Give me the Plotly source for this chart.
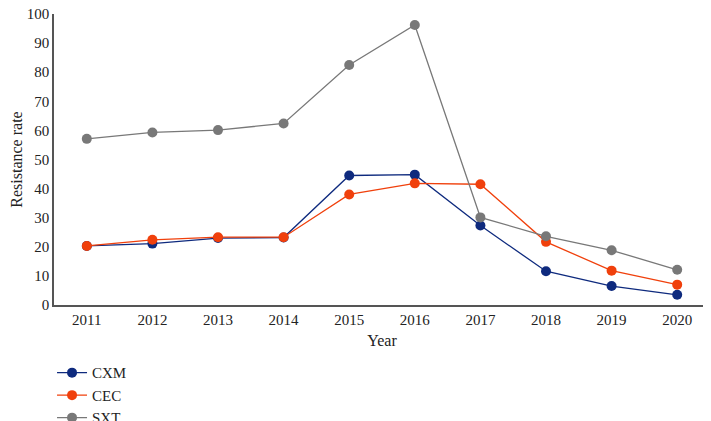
import plotly.graph_objects as go

# data
years = ["2011", "2012", "2013", "2014", "2015", "2016", "2017", "2018", "2019", "2020"]
cxm = [20.3, 21.1, 23.0, 23.2, 44.5, 44.8, 27.3, 11.6, 6.5, 3.5]
cec = [20.3, 22.4, 23.3, 23.3, 38.0, 41.8, 41.5, 21.7, 11.8, 7.0]
sxt = [57.1, 59.3, 60.1, 62.4, 82.5, 96.2, 30.1, 23.6, 18.8, 12.1]

fig = go.Figure()

# one trace per drug
fig.add_trace(go.Scatter(x=years, y=cxm, mode="lines+markers", name="CXM",
                         line=dict(color="#0e2a7e", width=1.3),
                         marker=dict(size=10, color="#0e2a7e")))
fig.add_trace(go.Scatter(x=years, y=cec, mode="lines+markers", name="CEC",
                         line=dict(color="#f0400c", width=1.3),
                         marker=dict(size=10, color="#f0400c")))
fig.add_trace(go.Scatter(x=years, y=sxt, mode="lines+markers", name="SXT",
                         line=dict(color="#787878", width=1.3),
                         marker=dict(size=10, color="#787878")))

# page body has an 8px margin, so the margins below are shifted by that
fig.update_layout(
    width=711, height=421,
    margin=dict(l=46, r=9, t=6, b=124, autoexpand=False),
    plot_bgcolor="white", paper_bgcolor="white",
    font=dict(family="Liberation Serif", size=15, color="#222"),
    legend=dict(
        orientation="v",
        x=-0.003, y=-0.1766, xanchor="left", yanchor="top",
        font=dict(size=15),
        itemwidth=30,
        tracegroupgap=0,
    ),
    xaxis=dict(
        title=dict(text="Year", standoff=8, font=dict(size=16)),
        type="category", range=[-0.5, 9.5], automargin=False,
        showline=True, linecolor="#555", linewidth=1.5,
        showgrid=False, ticks="",
    ),
    yaxis=dict(
        title=dict(text="Resistance rate", standoff=0, font=dict(size=16)),
        range=[0, 100], dtick=10, automargin=False,
        ticklabeloverflow="allow",
        showline=True, linecolor="#555", linewidth=1.5,
        showgrid=False, zeroline=False, ticks="",
    ),
)

fig.write_html("out.html")
